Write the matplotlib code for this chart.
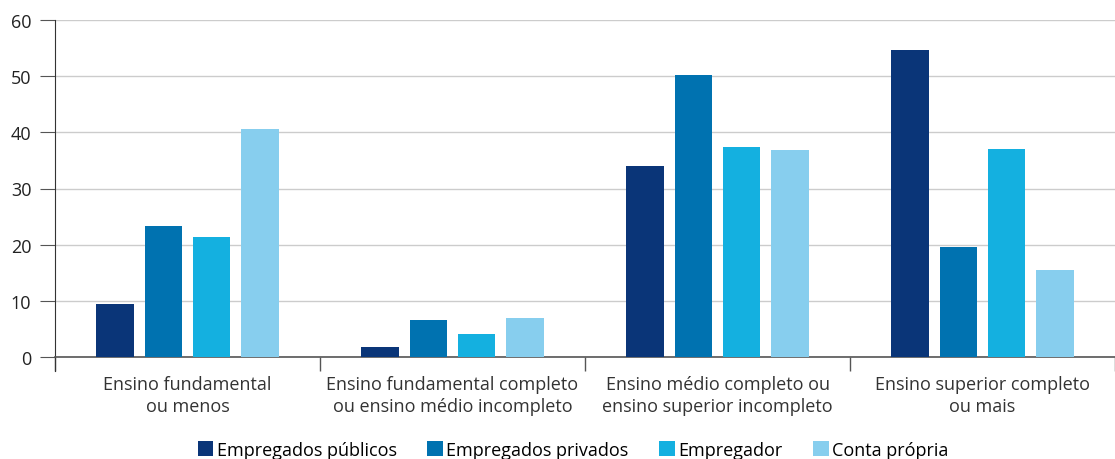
import numpy as np
import matplotlib.pyplot as plt

plt.rcParams['font.family'] = ['Open Sans', 'DejaVu Sans']

categories = ['Ensino fundamental\nou menos',
              'Ensino fundamental completo\nou ensino médio incompleto',
              'Ensino médio completo ou\nensino superior incompleto',
              'Ensino superior completo\nou mais']
series = ['Empregados públicos', 'Empregados privados', 'Empregador', 'Conta própria']
publicos = [9.4, 1.8, 34.0, 54.7]
privados = [23.3, 6.6, 50.2, 19.6]
empregador = [21.4, 4.1, 37.4, 37.0]
conta_propria = [40.6, 6.9, 36.9, 15.5]
colors = ['#0a3578', '#0072b0', '#14b0e0', '#87ceee']

fig = plt.figure(figsize=(11.15, 4.6), dpi=100)
ax = fig.add_axes([55 / 1115, 1 - 358 / 460, 1 - 55 / 1115, 337 / 460])

x = np.arange(len(categories))
step = 0.182
width = 0.142
for i, (vals, c, name) in enumerate(zip([publicos, privados, empregador, conta_propria], colors, series)):
    ax.bar(x + (i - 1.5) * step, vals, width, color=c, label=name, zorder=3)

ax.set_ylim(0, 60)
ax.set_xlim(-0.5, 3.459)
ax.set_yticks(range(0, 61, 10))
ax.grid(axis='y', color='#cccccc', linewidth=1, zorder=0)
for s in ['top', 'right']:
    ax.spines[s].set_visible(False)
ax.spines['left'].set_color('#333333')
ax.spines['bottom'].set_color('#555555')
ax.spines['bottom'].set_linewidth(1.2)
ax.spines['left'].set_bounds(-2.5, 60)
ax.tick_params(axis='y', length=11, color='#555555', labelsize=13, labelcolor='#222222', pad=6)

ax.set_xticks(x)
ax.set_xticklabels(categories, fontsize=13, color='#333333', linespacing=1.25)
ax.set_xticks([-0.5, 0.5, 1.5, 2.5, 3.5], minor=True)
ax.tick_params(axis='x', which='major', length=0, pad=13)
ax.tick_params(axis='x', which='minor', length=10, color='#555555', width=1)

handles, labels = ax.get_legend_handles_labels()
fig.legend(handles, labels, loc='center', bbox_to_anchor=(0.514, 0.02), ncol=4,
           frameon=False, fontsize=13, handlelength=0.85, handleheight=0.85,
           handletextpad=0.2, columnspacing=1.7)

fig.savefig('out.png', dpi=100)
